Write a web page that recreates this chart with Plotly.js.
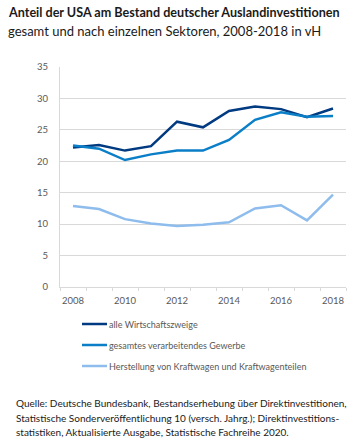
<!DOCTYPE html>
<html><head><meta charset="utf-8">
<script src="https://cdn.plot.ly/plotly-3.0.1.min.js"></script>
<style>body{margin:0;background:#fff}#c{width:360px;height:445px}</style>
</head><body><div id="c"></div>
<script>
const years = [2008,2009,2010,2011,2012,2013,2014,2015,2016,2017,2018];
const alleWirtschaftszweige = [22.2,22.6,21.7,22.4,26.3,25.4,28.0,28.7,28.3,27.0,28.4];
const verarbeitendesGewerbe = [22.5,22.0,20.2,21.1,21.7,21.7,23.4,26.6,27.8,27.1,27.2];
const kraftwagen = [12.9,12.4,10.8,10.1,9.7,9.9,10.3,12.5,13.0,10.6,14.7];
const seriesNames = ["alle Wirtschaftszweige","gesamtes verarbeitendes Gewerbe","Herstellung von Kraftwagen und Kraftwagenteilen"];
const yTicks = [0,5,10,15,20,25,30,35];
const xTickLabels = [2008,2010,2012,2014,2016,2018];
const sourceLines = ["Quelle: Deutsche Bundesbank, Bestandserhebung über Direktinvestitionen,",
  "Statistische Sonderveröffentlichung 10 (versch. Jahrg.); Direktinvestitions-",
  "statistiken, Aktualisierte Ausgabe, Statistische Fachreihe 2020."];

const colors = ["#003a80","#0a7fc8","#8ebcec"];
const data = [alleWirtschaftszweige, verarbeitendesGewerbe, kraftwagen].map((v,i)=>({
  x: years, y: v, type:"scatter", mode:"lines", name: seriesNames[i],
  line:{color:colors[i], width:2.5}, showlegend:false
}));
const F = "Lato, 'Open Sans', sans-serif";
const L = 60, T = 67, W = 286, H = 220;
const px = x => (x - L) / W;
const py = y => 1 - (y - T) / H;
const shapes = [], annotations = [];
seriesNames.forEach((n,i)=>{
  const y = 324 + i*21;
  shapes.push({type:"line", xref:"paper", yref:"paper", x0:px(82), x1:px(107), y0:py(y), y1:py(y),
    line:{color:colors[i], width:2.5}});
  annotations.push({xref:"paper", yref:"paper", x:px(107), y:py(y), xanchor:"left", yanchor:"middle",
    showarrow:false, text:n, font:{family:F, size:9, color:"#595959"}});
});
annotations.push({xref:"paper", yref:"paper", x:px(6), y:py(12), xanchor:"left", yanchor:"middle", showarrow:false,
  text:"<b>Anteil der USA am Bestand deutscher Auslandinvestitionen</b>", font:{family:F, size:12.6, color:"#1a1a1a"}});
annotations.push({xref:"paper", yref:"paper", x:px(6), y:py(31), xanchor:"left", yanchor:"middle", showarrow:false,
  text:"gesamt und nach einzelnen Sektoren, 2008-2018 in vH", font:{family:F, size:13, color:"#1a1a1a"}});
sourceLines.forEach((s,i)=>{
  annotations.push({xref:"paper", yref:"paper", x:px(14), y:py(403 + i*14.5), xanchor:"left", yanchor:"middle",
    showarrow:false, text:s, font:{family:F, size:10, color:"#1a1a1a"}});
});
const layout = {
  width:360, height:445, paper_bgcolor:"#fff", plot_bgcolor:"#fff",
  margin:{l:L, r:360-L-W, t:T, b:445-T-H},
  font:{family:F, color:"#595959", size:9},
  showlegend:false,
  xaxis:{type:"linear", range:[2007.5,2018.5], tickvals:xTickLabels, ticktext:xTickLabels.map(String),
    ticks:"", showgrid:false, zeroline:false, showline:true, linecolor:"#d9d9d9", linewidth:1,
    tickfont:{size:9.5, color:"#595959"}, ticklabelstandoff:5,
    minor:{tick0:2007.5, dtick:1, ticks:"outside", ticklen:3, tickcolor:"#d9d9d9", showgrid:false}},
  yaxis:{range:[0,35], tickvals:yTicks, ticks:"", showgrid:true, gridcolor:"#d9d9d9", gridwidth:1,
    zeroline:false, showline:true, linecolor:"#d9d9d9", tickfont:{size:9.5, color:"#595959"}, ticklabelstandoff:9},
  shapes, annotations
};
Plotly.newPlot("c", data, layout, {displayModeBar:false, staticPlot:true});
</script></body></html>
